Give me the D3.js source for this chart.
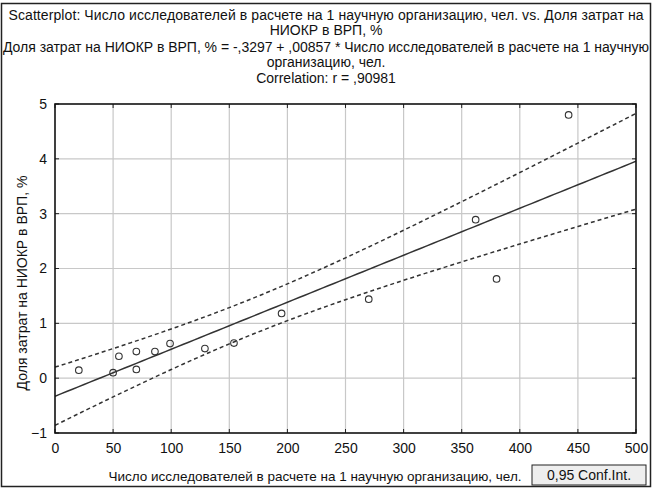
<!DOCTYPE html>
<html><head><meta charset="utf-8">
<script src="https://cdn.jsdelivr.net/npm/d3@7"></script>
<style>body{margin:0;background:#fff}svg{display:block}text{font-family:"Liberation Sans",Arial,sans-serif;fill:#111}</style>
</head><body>
<script>
// Data
const researchers = [20.5, 50, 55, 70, 70, 86, 99, 129, 154, 195, 270, 362, 380, 442];
const rdShare     = [0.145, 0.10, 0.40, 0.485, 0.16, 0.485, 0.63, 0.54, 0.64, 1.18, 1.44, 2.89, 1.81, 4.80];
const xTicks = [0, 50, 100, 150, 200, 250, 300, 350, 400, 450, 500];
const yTicks = [-1, 0, 1, 2, 3, 4, 5];
const intercept = -0.3297, slope = 0.00857;
const titleLines = [
  "Scatterplot: Число исследователей в расчете на 1 научную организацию, чел. vs. Доля затрат на",
  "НИОКР в ВРП, %",
  "Доля затрат на НИОКР в ВРП, % = -,3297 + ,00857 * Число исследователей в расчете на 1 научную",
  "организацию, чел.",
  "Correlation: r = ,90981"
];
const xLabel = "Число исследователей в расчете на 1 научную организацию, чел.";
const yLabel = "Доля затрат на НИОКР в ВРП, %";
const legendText = "0,95 Conf.Int.";

const W = 652, H = 488;
const L = 55, R = 636, T = 104, B = 433;
const svg = d3.select("body").append("svg").attr("width", W).attr("height", H);
svg.append("rect").attr("x", 1.5).attr("y", 3.5).attr("width", W - 3).attr("height", H - 5)
  .attr("fill", "#fff").attr("stroke", "#222").attr("stroke-width", 1.5);

const x = d3.scaleLinear().domain([0, 500]).range([L, R]);
const y = d3.scaleLinear().domain([-1, 5]).range([B, T]);

// title
const tY = [15, 30, 47, 62, 78];
const tLen = [635, null, 646, null, null];
titleLines.forEach((t, i) => {
  const el = svg.append("text").attr("x", 326).attr("y", tY[i] + 5)
    .attr("text-anchor", "middle").attr("font-size", 14).text(t);
  if (tLen[i]) el.attr("textLength", tLen[i]).attr("lengthAdjust", "spacing");
});

// grid
const g = svg.append("g");
g.selectAll(".gx").data(xTicks.slice(1, -1)).join("line")
  .attr("x1", d => x(d)).attr("x2", d => x(d)).attr("y1", T).attr("y2", B)
  .attr("stroke", "#c8c8c8").attr("stroke-width", 1.2);
g.selectAll(".gy").data(yTicks.slice(1, -1)).join("line")
  .attr("y1", d => y(d)).attr("y2", d => y(d)).attr("x1", L).attr("x2", R)
  .attr("stroke", "#c8c8c8").attr("stroke-width", 1.2);

// axes
const ax = d3.axisBottom(x).tickValues(xTicks).tickFormat(d3.format("d")).tickSize(0).tickPadding(10);
const axG = svg.append("g").attr("transform", `translate(0,${B})`).call(ax);
axG.select(".domain").remove();
axG.selectAll("text").attr("font-size", 14).attr("font-family", "Liberation Sans, Arial").attr("fill", "#111");
const ay = d3.axisLeft(y).tickValues(yTicks).tickFormat(d3.format("d")).tickSize(0).tickPadding(8);
const ayG = svg.append("g").attr("transform", `translate(${L},0)`).call(ay);
ayG.select(".domain").remove();
ayG.selectAll("text").attr("font-size", 14).attr("font-family", "Liberation Sans, Arial").attr("fill", "#111");

// small inward ticks on all four sides
const tk = svg.append("g").attr("stroke", "#222").attr("stroke-width", 1);
xTicks.forEach(v => {
  tk.append("line").attr("x1", x(v)).attr("x2", x(v)).attr("y1", B).attr("y2", B - 4);
  tk.append("line").attr("x1", x(v)).attr("x2", x(v)).attr("y1", T).attr("y2", T + 4);
});
yTicks.forEach(v => {
  tk.append("line").attr("y1", y(v)).attr("y2", y(v)).attr("x1", L).attr("x2", L + 4);
  tk.append("line").attr("y1", y(v)).attr("y2", y(v)).attr("x1", R).attr("x2", R - 4);
});

// regression + 95% CI from the data
const n = researchers.length;
const mx = d3.mean(researchers);
const sxx = d3.sum(researchers, v => (v - mx) ** 2);
const sse = d3.sum(researchers, (v, i) => (rdShare[i] - (intercept + slope * v)) ** 2);
const s = Math.sqrt(sse / (n - 2));
const tCrit = 2.1788; // t(0.975, 12)
const xs = d3.range(0, 501, 5);
const fit = v => intercept + slope * v;
const hw = v => tCrit * s * Math.sqrt(1 / n + (v - mx) ** 2 / sxx);

svg.append("clipPath").attr("id", "clip").append("rect")
  .attr("x", L).attr("y", T).attr("width", R - L).attr("height", B - T);
const pl = svg.append("g").attr("clip-path", "url(#clip)");
const line = d3.line().x(d => x(d[0])).y(d => y(d[1]));
pl.append("path").attr("d", line(xs.map(v => [v, fit(v)])))
  .attr("fill", "none").attr("stroke", "#333").attr("stroke-width", 1.5);
[1, -1].forEach(sg => pl.append("path").attr("d", line(xs.map(v => [v, fit(v) + sg * hw(v)])))
  .attr("fill", "none").attr("stroke", "#333").attr("stroke-width", 1.5).attr("stroke-dasharray", "4,3"));

// points
pl.selectAll("circle").data(researchers).join("circle")
  .attr("cx", d => x(d)).attr("cy", (d, i) => y(rdShare[i])).attr("r", 3.3)
  .attr("fill", "none").attr("stroke", "#333").attr("stroke-width", 1.1);

// frame
svg.append("rect").attr("x", L).attr("y", T).attr("width", R - L).attr("height", B - T)
  .attr("fill", "none").attr("stroke", "#111").attr("stroke-width", 1.6);

// axis titles
svg.append("text").attr("x", 315).attr("y", 481).attr("text-anchor", "middle")
  .attr("font-size", 13.5).text(xLabel);
svg.append("text").attr("transform", "translate(27,283) rotate(-90)").attr("text-anchor", "middle")
  .attr("font-size", 14).text(yLabel);

// legend
svg.append("rect").attr("x", 532).attr("y", 465).attr("width", 114).attr("height", 20)
  .attr("fill", "#eeeeee").attr("stroke", "#222").attr("stroke-width", 1);
svg.append("text").attr("x", 589).attr("y", 480).attr("text-anchor", "middle")
  .attr("font-size", 14).text(legendText);
</script>
</body></html>
